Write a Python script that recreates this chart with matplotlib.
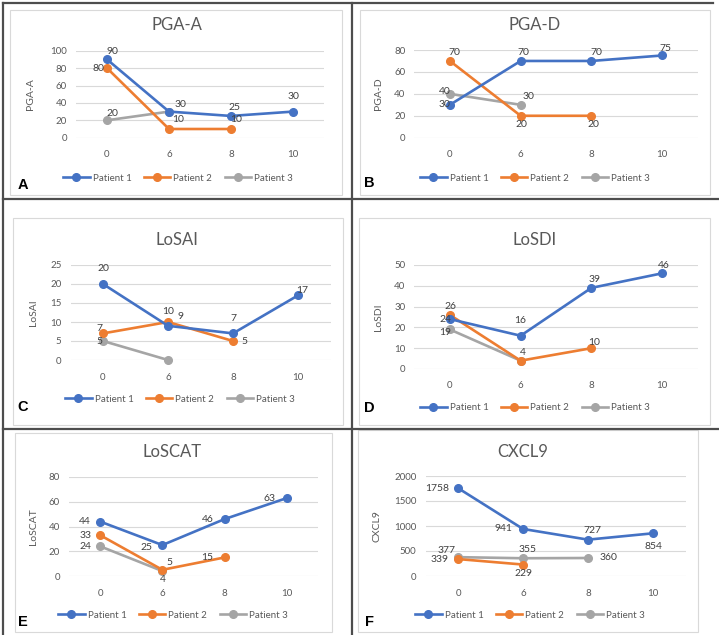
import numpy as np
import matplotlib
matplotlib.use("Agg")
import matplotlib.pyplot as plt

plt.rcParams["font.family"] = ["Lato", "DejaVu Sans"]

W, H = 719, 635
nan = np.nan

weeks = ["0", "6", "8", "10"]
patients = ["Patient 1", "Patient 2", "Patient 3"]
colors = ["#4472C4", "#ED7D31", "#A5A5A5"]

# values
pga_a = [[90, 30, 25, 30], [80, 10, 10, nan], [20, 30, nan, nan]]
pga_d = [[30, 70, 70, 75], [70, 20, 20, nan], [40, 30, nan, nan]]
losai = [[20, 9, 7, 17], [7, 10, 5, nan], [5, 0, nan, nan]]
losdi = [[24, 16, 39, 46], [26, 4, 10, nan], [19, 4, nan, nan]]
loscat = [[44, 25, 46, 63], [33, 5, 15, nan], [24, 4, nan, nan]]
cxcl9 = [[1758, 941, 727, 854], [339, 229, nan, nan], [377, 355, 360, nan]]

titles = ["PGA-A", "PGA-D", "LoSAI", "LoSDI", "LoSCAT", "CXCL9"]
letters = ["A", "B", "C", "D", "E", "F"]
ymax = [100, 80, 25, 50, 80, 2000]
ystep = [20, 20, 5, 10, 20, 500]
datasets = [pga_a, pga_d, losai, losdi, loscat, cxcl9]

# layout in pixels: plot box (left, right, top, bottom)
boxes = [(76, 324, 50.7, 137.7), (414.5, 697.5, 50, 137.7),
         (70.5, 330.5, 265, 360), (414.5, 697.5, 265, 369),
         (69, 318, 477, 576), (425.5, 685.5, 476, 576)]
chart_areas = [(10, 10, 342, 195), (360, 10, 710, 195),
               (13, 218, 343, 425), (359, 218, 710, 425),
               (15, 433, 332, 632), (358, 430, 698, 632)]
title_pos = [(177, 25), (535, 25), (177, 240), (535, 240), (172, 452), (523, 452)]
ylabel_x = [35, 383, 38, 383, 38, 382]
legend_pos = [(178, 178), (535, 178), (180, 399), (535, 408), (173, 615), (530, 615)]
letter_pos = [(23, 185), (369, 183), (23, 407), (369, 408), (23, 622), (369, 622)]

# data label offsets in pixels (dx, dy up), None = no label
offsets = [
    [[(5, 8), (11, 7), (3, 8), (0, 15)], [(-9, 0), (9, 9), (5, 9), None], [(5, 7), None, None, None]],
    [[(-5, 0), (3, 8), (5, 8), (3, 7)], [(5, 8), (1, -9), (2, -9), None], [(-5, 2), (8, 8), None, None]],
    [[(0, 15), (13, 9), (0, 15), (4, 5)], [(-4, 5), (0, 10), (11, 0), None], [(-4, 0), None, None, None]],
    [[(-4, 0), (0, 15), (3, 8), (2, 8)], [(1, 8), (2, 8), (3, 6), None], [(-5, -3), None, None, None]],
    [[(-15, 0), (-16, -2), (-17, 0), (-17, 0)], [(-15, 0), (7, 7), (-17, 0), None], [(-15, 0), (0, -8), None, None]],
    [[(-21, 0), (-20, 0), (4, 9), (0, -13)], [(-18, 0), (0, -9), None, None], [(-11, 7), (5, 9), (20, 0), None]],
]

TXT = "#595959"
LBL = "#404040"


def fx(x):
    return x / W


def fy(y):
    return 1 - y / H


fig = plt.figure(figsize=(W / 100, H / 100), dpi=100)

for i in range(6):
    x0, y0, x1, y1 = chart_areas[i]
    fig.add_artist(plt.Rectangle((fx(x0), fy(y1)), fx(x1) - fx(x0), fy(y0) - fy(y1),
                                 transform=fig.transFigure, fill=False,
                                 edgecolor="#D9D9D9", linewidth=0.8))

    l, r, t, b = boxes[i]
    ax = fig.add_axes([fx(l), fy(b), (r - l) / W, (b - t) / H])
    xs = np.arange(len(weeks))
    for k, series in enumerate(datasets[i]):
        ax.plot(xs, series, color=colors[k], linewidth=1.9, marker="o",
                markersize=5.5, label=patients[k], clip_on=False, zorder=3 + (2 - k))
        for j, v in enumerate(series):
            off = offsets[i][k][j]
            if off is None or np.isnan(v):
                continue
            ax.annotate(f"{v:g}", (j, v), xytext=off, textcoords="offset pixels",
                        ha="center", va="center", fontsize=7.5, color=LBL, zorder=10)

    ax.set_xlim(-0.5, len(weeks) - 0.5)
    ax.set_ylim(0, ymax[i])
    ax.set_xticks(xs)
    ax.set_xticklabels(weeks)
    ax.set_yticks(np.arange(0, ymax[i] + 1, ystep[i]))
    ax.tick_params(length=0, labelsize=7, colors=TXT)
    ax.tick_params(axis="x", pad=9)
    ax.tick_params(axis="y", pad=6.5)
    ax.grid(axis="y", color="#D9D9D9", linewidth=0.8)
    ax.set_axisbelow(True)
    for s in ax.spines.values():
        s.set_visible(False)

    ax.set_ylabel(titles[i], fontsize=7.5, color=TXT)
    ax.yaxis.set_label_coords((ylabel_x[i] - l) / (r - l), 0.5)

    tx, ty = title_pos[i]
    fig.text(fx(tx), fy(ty), titles[i], ha="center", va="center", fontsize=12, color=TXT)

    lx, ly = legend_pos[i]
    ax.legend(loc="center", bbox_to_anchor=(fx(lx), fy(ly)), bbox_transform=fig.transFigure,
              ncol=3, frameon=False, fontsize=7, labelcolor=TXT, handlelength=2.7,
              handletextpad=0.3, columnspacing=1.3, borderpad=0)

    px_, py_ = letter_pos[i]
    fig.text(fx(px_), fy(py_), letters[i], ha="center", va="center", fontsize=10.5,
             fontweight="bold", family="Liberation Sans", color="black")

# panel frame
frame = dict(color="#4D4D4D", linewidth=1.6, transform=fig.transFigure)
fig.add_artist(plt.Line2D([fx(3), fx(3)], [fy(3), fy(635)], **frame))
fig.add_artist(plt.Line2D([fx(3), fx(713)], [fy(3), fy(3)], **frame))
fig.add_artist(plt.Line2D([fx(352), fx(352)], [fy(3), fy(635)], **frame))
fig.add_artist(plt.Line2D([fx(3), fx(719)], [fy(199), fy(199)], **frame))
fig.add_artist(plt.Line2D([fx(3), fx(719)], [fy(429), fy(429)], **frame))

fig.savefig("out.png", dpi=100)
